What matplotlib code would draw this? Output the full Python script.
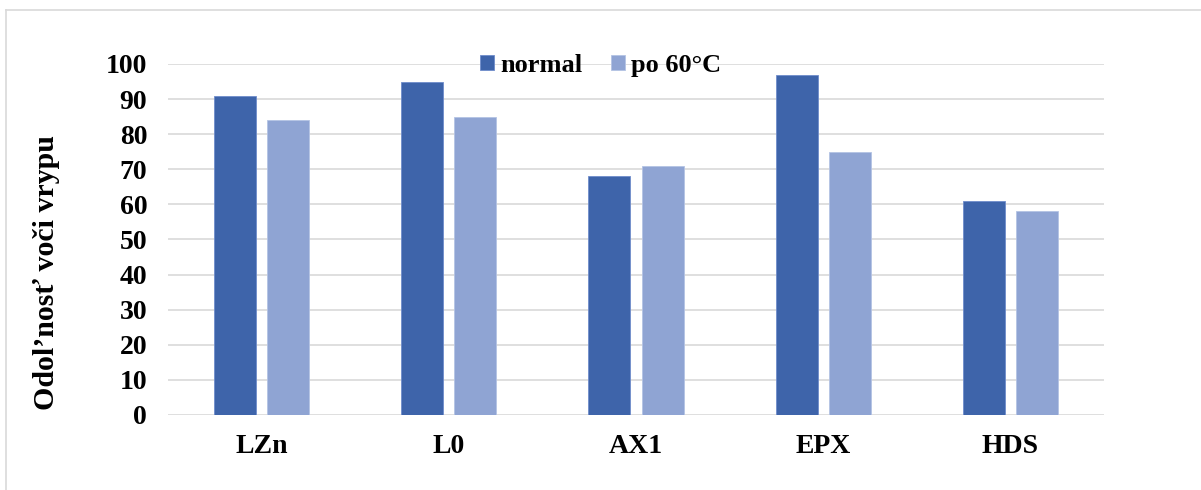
import numpy as np
import matplotlib
matplotlib.use("Agg")
import matplotlib.pyplot as plt
from matplotlib.lines import Line2D

# datos
categorias = ["LZn", "L0", "AX1", "EPX", "HDS"]
normal = [91, 95, 68, 97, 61]
po_60 = [84, 85, 71, 75, 58]
serie_labels = ["normal", "po 60°C"]
yticks = list(range(0, 101, 10))

plt.rcParams["font.family"] = ["Liberation Serif", "DejaVu Serif"]
plt.rcParams["font.weight"] = "bold"
fs = 20

fig = plt.figure(figsize=(12.01, 4.90), dpi=100)
ax = fig.add_axes([0.1399, 0.1531, 0.7793, 0.7163])

x = np.arange(len(categorias))
w = 0.225
off = 0.142
ax.bar(x - off, normal, w, color="#3E64AA", edgecolor="#6f8ccb", linewidth=0.6,
       label=serie_labels[0], zorder=3)
ax.bar(x + off, po_60, w, color="#8FA4D3", edgecolor="#b4c3e4", linewidth=0.6,
       label=serie_labels[1], zorder=3)

ax.set_xlim(-0.5, len(categorias) - 0.5)
ax.set_ylim(0, 100)
ax.set_yticks(yticks)
ax.set_xticks(x)
ax.set_xticklabels(categorias)
ax.tick_params(axis="both", length=0, labelsize=fs)
ax.tick_params(axis="y", pad=15)
ax.tick_params(axis="x", pad=14)
for lab in ax.get_xticklabels() + ax.get_yticklabels():
    lab.set_fontweight("bold")

ax.grid(axis="y", color="#d9d9d9", linewidth=1.2, zorder=0)
ax.set_axisbelow(True)
for s in ax.spines.values():
    s.set_visible(False)

ax.set_ylabel("Odol’nosť voči vrypu", fontsize=21.5, fontweight="bold")
ax.yaxis.set_label_coords(-0.115, 0.405)

fig.legend(loc="center", bbox_to_anchor=(0.5, 0.867), ncol=2, frameon=False,
           handlelength=0.52, handleheight=0.52, handletextpad=0.22,
           columnspacing=1.1, prop={"weight": "bold", "size": 19})

# borde del area del grafico (solo arriba e izquierda visibles)
fig.add_artist(Line2D([6 / 1201, 1], [1 - 10 / 490, 1 - 10 / 490],
                      transform=fig.transFigure, color="#d9d9d9", linewidth=1.2))
fig.add_artist(Line2D([6 / 1201, 6 / 1201], [0, 1 - 10 / 490],
                      transform=fig.transFigure, color="#d9d9d9", linewidth=1.2))

fig.savefig("out.png", dpi=100)
